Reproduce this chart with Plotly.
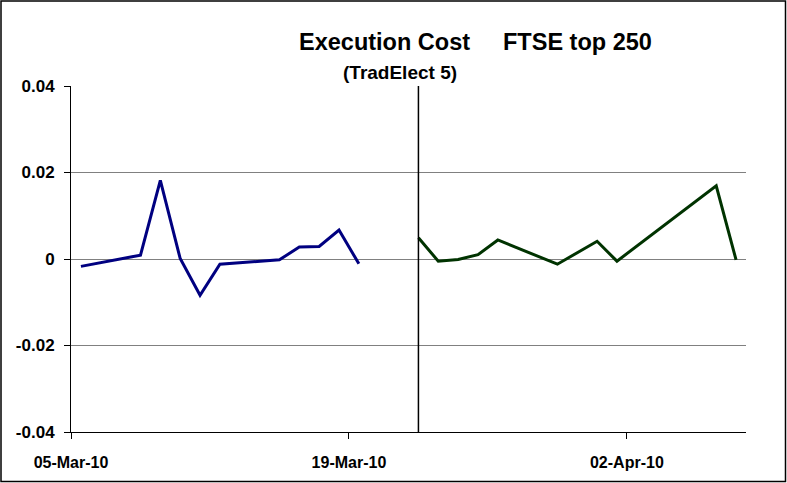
import plotly.graph_objects as go

# ---- data ----
dates_a = ["2010-03-05", "2010-03-08", "2010-03-09", "2010-03-10", "2010-03-11", "2010-03-12",
           "2010-03-15", "2010-03-16", "2010-03-17", "2010-03-18", "2010-03-19"]
cost_a = [-0.0017, 0.0009, 0.0182, 0.0001, -0.0084, -0.0012, -0.0002, 0.0028, 0.0029, 0.0067, -0.0011]

dates_b = ["2010-03-22", "2010-03-23", "2010-03-24", "2010-03-25", "2010-03-26",
           "2010-03-29", "2010-03-31", "2010-04-01", "2010-04-06", "2010-04-07"]
cost_b = [0.0049, -0.0005, -0.0001, 0.0010, 0.0044, -0.0012, 0.0041, -0.0005, 0.0169, -0.0002]

x_tick_vals = ["2010-03-05", "2010-03-19", "2010-04-02"]
x_tick_text = ["05-Mar-10", "19-Mar-10", "02-Apr-10"]
y_tick_vals = [-0.04, -0.02, 0, 0.02, 0.04]
y_tick_text = ["-0.04", "-0.02", "0", "0.02", "0.04"]
x_range = ["2010-03-05", "2010-04-08"]
separator_date = "2010-03-22 12:00"

title_main_left = "Execution Cost"
title_main_right = "FTSE top 250"
subtitle = "(TradElect 5)"

FONT = "Liberation Sans, Arial, sans-serif"
DAY_MS = 86400000

fig = go.Figure()
fig.add_trace(go.Scatter(x=dates_a, y=cost_a, mode="lines",
                         line=dict(color="#000080", width=3),
                         xperiod=DAY_MS, xperiodalignment="middle", showlegend=False))
fig.add_trace(go.Scatter(x=dates_b, y=cost_b, mode="lines",
                         line=dict(color="#003300", width=3),
                         xperiod=DAY_MS, xperiodalignment="middle", showlegend=False))

L, R, T, B = 71, 41, 86, 51
W, H = 787, 483
pw, ph = W - L - R, H - T - B

def px(xp):
    return (xp - L) / pw

def py(yp):
    return (H - B - yp) / ph

fig.add_shape(type="line", xref="x", yref="paper", x0=separator_date, x1=separator_date,
              y0=0, y1=1, line=dict(color="black", width=1.5))
fig.add_shape(type="rect", xref="paper", yref="paper",
              x0=px(1), x1=px(785.5), y0=py(1), y1=py(481.5),
              line=dict(color="black", width=1.5), layer="below")

fig.add_annotation(text="<b>" + title_main_left + "</b>", xref="paper", yref="paper",
                   x=px(384), y=py(42), showarrow=False, xanchor="center", yanchor="middle",
                   font=dict(family=FONT, size=23.5, color="black"))
fig.add_annotation(text="<b>" + title_main_right + "</b>", xref="paper", yref="paper",
                   x=px(577), y=py(42), showarrow=False, xanchor="center", yanchor="middle",
                   font=dict(family=FONT, size=23.5, color="black"))
fig.add_annotation(text="<b>" + subtitle + "</b>", xref="paper", yref="paper",
                   x=px(400), y=py(72), showarrow=False, xanchor="center", yanchor="middle",
                   font=dict(family=FONT, size=19, color="black"))

fig.update_xaxes(type="date", range=x_range, tickvals=x_tick_vals,
                 ticktext=[f"<b>{t}</b>" for t in x_tick_text],
                 showgrid=False, zeroline=False, showline=True, linecolor="black", linewidth=1,
                 ticks="outside", ticklen=6, tickcolor="black", ticklabelstandoff=10,
                 tickfont=dict(family=FONT, size=16, color="black"))
fig.update_yaxes(range=[-0.04, 0.04], tickvals=y_tick_vals, ticktext=[f"<b>{t}</b>" for t in y_tick_text],
                 showgrid=True, gridcolor="#808080", gridwidth=1, zeroline=False,
                 showline=True, linecolor="black", linewidth=1,
                 ticks="outside", ticklen=6, tickcolor="black", ticklabelstandoff=6,
                 tickfont=dict(family=FONT, size=17, color="black"))

fig.update_layout(width=W, height=H, margin=dict(l=L, r=R, t=T, b=B, pad=0),
                  paper_bgcolor="white", plot_bgcolor="white",
                  font=dict(family=FONT, color="black"))

fig.write_html("out.html", config={"displayModeBar": False},
               post_script="document.body.style.margin='0';")
